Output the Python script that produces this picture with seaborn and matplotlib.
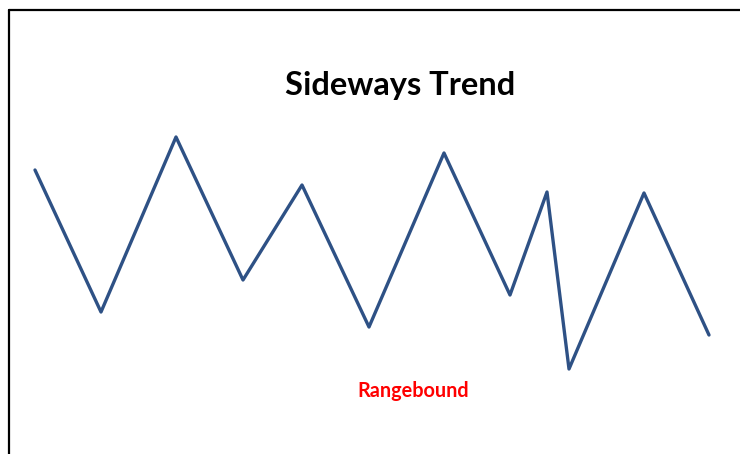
"""
Gráfico de tendência lateral (Sideways Trend) com seaborn.
"""

import pandas as pd
import matplotlib.pyplot as plt
import seaborn as sns
from matplotlib.lines import Line2D

# Dados (posição no tempo e nível de preço)
tempo = [35, 101, 176, 243, 302, 369, 444, 510, 547, 569, 644, 709]
preco = [284, 142, 317, 174, 269, 127, 301, 159, 262, 85, 261, 119]

titulo = 'Sideways Trend'
rotulo = 'Rangebound'

COR_LINHA = '#2E5185'


def main():
    sns.set_theme(style='white')
    plt.rcParams['font.family'] = ['Lato', 'DejaVu Sans']

    df = pd.DataFrame({'tempo': tempo, 'preco': preco})

    fig = plt.figure(figsize=(7.4, 4.54), dpi=100)
    ax = fig.add_axes([0, 0, 1, 1])

    sns.lineplot(data=df, x='tempo', y='preco', ax=ax, color=COR_LINHA,
                 linewidth=2.4, sort=False)

    ax.set_xlim(0, 740)
    ax.set_ylim(0, 454)
    ax.set_axis_off()

    # Moldura (esquerda e topo)
    fig.add_artist(Line2D([8.5 / 740, 8.5 / 740], [0, 1 - 10 / 454],
                          color='black', linewidth=1.6, transform=fig.transFigure))
    fig.add_artist(Line2D([8.5 / 740, 1], [1 - 10 / 454, 1 - 10 / 454],
                          color='black', linewidth=1.6, transform=fig.transFigure))

    fig.text(400 / 740, 1 - 85 / 454, titulo, ha='center', va='center',
             fontsize=23.5, fontweight='bold', color='black')
    fig.text(413 / 740, 1 - 391 / 454, rotulo, ha='center', va='center',
             fontsize=14.3, fontweight='bold', color='#FF0000')

    fig.savefig('out.png', dpi=100)
    plt.close(fig)


if __name__ == "__main__":
    main()
